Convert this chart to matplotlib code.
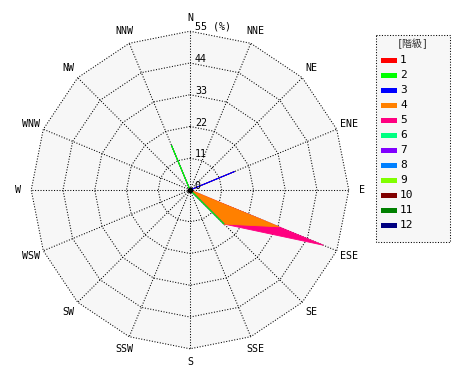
import numpy as np
import matplotlib
matplotlib.use('Agg')
import matplotlib.pyplot as plt
from matplotlib.patches import Polygon, Rectangle

# wind directions, clockwise from north
directions = ['N', 'NNE', 'NE', 'ENE', 'E', 'ESE', 'SE', 'SSE',
              'S', 'SSW', 'SW', 'WSW', 'W', 'WNW', 'NW', 'NNW']

# frequency (%) per class and direction
class_labels = ['1', '2', '3', '4', '5', '6', '7', '8', '9', '10', '11', '12']
class_colors = ['#ff0000', '#00ff00', '#0000ff', '#ff8000', '#ff0080', '#00ff80',
                '#8000ff', '#0080ff', '#80ff00', '#800000', '#008000', '#000080']
zero = [0.0] * 16
freq = {
    '1': zero,
    '2': [0, 0, 0, 0, 0, 0, 16.7, 0, 0, 0, 0, 0, 0, 0, 0, 16.7],
    '3': [0, 0, 0, 16.7, 0, 0, 0, 0, 0, 0, 0, 0, 0, 0, 0, 0],
    '4': [0, 0, 0, 0, 0, 33.3, 0, 0, 0, 0, 0, 0, 0, 0, 0, 0],
    '5': [0, 0, 0, 0, 0, 16.7, 0, 0, 0, 0, 0, 0, 0, 0, 0, 0],
    '6': zero, '7': zero, '8': zero, '9': zero,
    '10': zero, '11': zero, '12': zero,
}
ring_values = [11, 22, 33, 44, 55]
r_max = 55

W, H = 470, 380
fig = plt.figure(figsize=(W / 100, H / 100), dpi=100)
fig.patch.set_facecolor('white')

ax = fig.add_axes([11 / W, 11 / H, 358 / W, 358 / H])
ax.set_xlim(-62, 62)
ax.set_ylim(-62, 62)
ax.set_aspect('equal')
ax.axis('off')

theta = np.deg2rad(np.arange(16) * 22.5)


def to_xy(r):
    r = np.asarray(r, dtype=float)
    return r * np.sin(theta), r * np.cos(theta)


dot = dict(color='black', linewidth=0.75, linestyle=(0, (1, 1.6)))

# background polygon
bx, by = to_xy([r_max] * 16)
ax.add_patch(Polygon(np.column_stack([bx, by]), closed=True,
                     facecolor='#f7f7f7', edgecolor='none', zorder=0))

# rings
for rv in ring_values:
    x, y = to_xy([rv] * 16)
    ax.plot(np.append(x, x[0]), np.append(y, y[0]), zorder=1, **dot)

# spokes
for i in range(16):
    ax.plot([0, r_max * np.sin(theta[i])], [0, r_max * np.cos(theta[i])],
            zorder=1, **dot)

# stacked polygons, outer classes first
cum = np.cumsum([freq[c] for c in class_labels], axis=0)
for k in range(len(class_labels) - 1, -1, -1):
    if not np.any(freq[class_labels[k]]):
        continue
    x, y = to_xy(cum[k])
    ax.add_patch(Polygon(np.column_stack([x, y]), closed=True,
                         facecolor=class_colors[k], edgecolor=class_colors[k],
                         linewidth=0.6, zorder=3))

ax.plot(0, 0, 'o', color='black', markersize=3, zorder=5)

mono = 'DejaVu Sans Mono'
fs = 7.2

# radial labels
ax.text(1.6, 1.4, '0', fontsize=fs, family=mono, ha='left', va='center', zorder=6)
for rv in ring_values[:-1]:
    ax.text(1.7, rv + 1.3, str(rv), fontsize=fs, family=mono,
            ha='left', va='center', zorder=6)
ax.text(1.7, r_max + 1.5, '55 (%)', fontsize=fs, family=mono,
        ha='left', va='center', zorder=6)

# direction labels
lx, ly = to_xy([59.6] * 16)
for i, d in enumerate(directions):
    ax.text(lx[i], ly[i], d, fontsize=fs, family=mono, ha='center', va='center')

# legend box
lax = fig.add_axes([375 / W, (H - 244) / H, 76 / W, 210 / H])
lax.set_xlim(0, 76)
lax.set_ylim(210, 0)
lax.axis('off')
lax.add_patch(Rectangle((1, 1), 74, 207, facecolor='#f7f7f7',
                        edgecolor='black', linewidth=0.75,
                        linestyle=(0, (1, 1.6)), clip_on=False))
lax.text(38, 10, '[階級]', fontsize=fs, family=[mono, 'Noto Sans CJK JP'],
         ha='center', va='center', color='#333333')
for i, lab in enumerate(class_labels):
    yy = 26 + i * 15
    lax.add_patch(Rectangle((6, yy - 2.5), 16, 5, facecolor=class_colors[i],
                            edgecolor='none'))
    lax.text(25, yy, lab, fontsize=fs + 0.8, family=mono, ha='left', va='center')

fig.savefig('out.png', dpi=100, facecolor='white')
